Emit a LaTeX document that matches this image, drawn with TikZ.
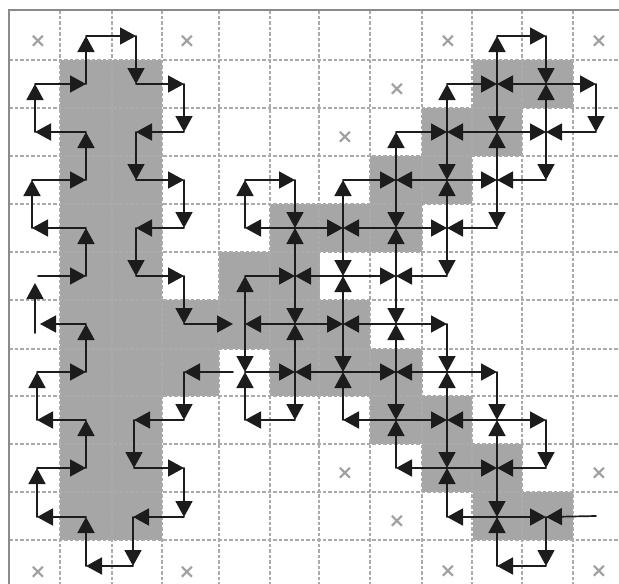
\documentclass[tikz,border=0pt]{standalone}
\usepackage{fontspec}
\newfontfamily\markfont{DejaVu Sans}
\usetikzlibrary{arrows.meta}
\tikzset{
  x=1pt,y=-1pt,
  cellfill/.style={fill=shade,draw=none},
  gridline/.style={draw=gridc,line width=1.1pt,dash pattern=on 3.5pt off 2pt},
  frameline/.style={draw=framec,line width=2.6pt},
  seg/.style={draw=inkc,line width=1.7pt,line cap=round,line join=round,-{Triangle[length=16pt,width=17pt]}},
  xmark/.style={text=markc,font=\markfont\bfseries\fontsize{20}{20}\selectfont,inner sep=0pt}
}
\definecolor{shade}{HTML}{A6A6A6}
\definecolor{gridc}{HTML}{ABABAB}
\definecolor{framec}{HTML}{8A8A8A}
\definecolor{inkc}{HTML}{1C1C1C}
\definecolor{markc}{HTML}{A0A0A0}
\begin{document}
\begin{tikzpicture}
\useasboundingbox (0,0) rectangle (619,584);
\fill[white] (0,0) rectangle (619,584);
% shaded cells
\foreach \xa/\ya/\xb/\yb in {60/60/162/540,162/300/219/396,219/252/320/349,270/204/422/252,219/300/370/349,
  270/349/422/396,370/156/472/204,422/108/522/156,473/60/573/108,370/396/472/444,422/444/522/492,473/492/573/540}
  \fill[cellfill] (\xa,\ya) rectangle (\xb,\yb);
% grid
\foreach \gx in {60,112,162,219,270,319,370,422,472,522,573}
  \draw[gridline] (\gx,10) -- (\gx,584);
\foreach \gy in {60,108,156,204,252,300,349,396,444,492,540}
  \draw[gridline] (9,\gy) -- (619,\gy);
\draw[frameline] (9,584) -- (9,10) -- (619,10);
% crosses
\foreach \i/\mx/\my in {a/38/41,b/187/41,c/448/41,d/599/41,e/397/89,f/345/137,g/38/572,h/187/572,i/345/473,j/397/521,k/448/571,l/599/571,m/599/473}
  \node[xmark] (x\i) at (\mx,\my) {×};
% junction points
\foreach \c/\cx in {0/35,1/86,2/136,3/184,4/245,5/295,6/343,7/396,8/447,9/497,10/546,11/596}
  \foreach \r/\ry in {0/36,1/84,2/132,3/180,4/228,5/276,6/324,7/372,8/420,9/468,10/517,11/566}
    \coordinate (n\c-\r) at (\cx,\ry);
\coordinate (n0-3) at (32,180);
\coordinate (n0-4) at (32,228);
\coordinate (n0-7) at (37,372);
\coordinate (n0-8) at (37,420);
\coordinate (n0-9) at (37,468);
\coordinate (n0-10) at (37,517);
\coordinate (n2-8) at (134,420);
\coordinate (n2-9) at (134,468);
\coordinate (n2-10) at (133,517);
\coordinate (n2-11) at (133,566);
\coordinate (freeA) at (233,324);
\coordinate (freeB) at (233,372);
\coordinate (freeC) at (38,276);
\coordinate (freeD) at (35,333);
\coordinate (freeE) at (35,283);
\coordinate (freeF) at (40,324);
\coordinate (freeG) at (596,516);
% connectors, left body
\foreach \a/\b in {
  n1-1/n1-0,n1-0/n2-0,n2-0/n2-1,n2-1/n3-1,n3-1/n3-2,n3-2/n2-2,n2-2/n2-3,n2-3/n3-3,n3-3/n3-4,n3-4/n2-4,n2-4/n2-5,n2-5/n3-5,n3-5/n3-6,n3-6/freeA,
  n0-1/n1-1,n0-2/n0-1,n1-2/n0-2,n1-3/n1-2,n0-3/n1-3,n0-4/n0-3,n1-4/n0-4,n1-5/n1-4,freeC/n1-5,freeD/freeE,n1-6/freeF,n1-7/n1-6,
  n0-7/n1-7,n0-8/n0-7,n1-8/n0-8,n1-9/n1-8,n0-9/n1-9,n0-10/n0-9,n1-10/n0-10,n1-11/n1-10,n2-11/n1-11,n2-10/n2-11,n3-10/n2-10,n3-9/n3-10,
  n2-9/n3-9,n2-8/n2-9,n3-8/n2-8,n3-7/n3-8,freeB/n3-7}
  \draw[seg] (\a) -- (\b);
% connectors, right body
\foreach \a/\b in {
  n4-5/n5-5,n4-6/n4-5,n4-6/n4-7,n5-6/n4-6,n5-5/n5-6,n5-7/n5-6,n5-7/n5-8,n5-8/n4-8,n4-8/n4-7,n4-7/n5-7,n6-7/n5-7,n5-6/n6-6,n7-6/n6-6,
  n6-6/n6-5,n6-6/n6-7,n6-8/n6-7,n7-8/n6-8,n7-7/n7-8,n7-9/n7-8,n8-9/n7-9,n7-8/n8-8,n9-8/n8-8,n8-8/n8-7,n8-8/n8-9,n8-10/n8-9,n9-10/n8-10,
  n8-9/n9-9,n10-9/n9-9,n9-9/n9-8,n9-9/n9-10,n9-11/n9-10,n10-11/n9-11,n10-10/n10-11,freeG/n10-10,n9-10/n10-10,n9-8/n10-8,n10-8/n10-9,
  n8-7/n9-7,n9-7/n9-8,n8-7/n7-7,n6-7/n7-7,n7-7/n7-6,n7-6/n8-6,n8-6/n8-7,n7-5/n7-6,n6-5/n7-5,n8-5/n7-5,n7-5/n7-4,n8-4/n8-5,n7-4/n8-4,
  n9-4/n8-4,n8-4/n8-3,n5-5/n5-4,n6-5/n5-5,n6-4/n6-5,n5-4/n6-4,n7-4/n6-4,n6-4/n6-3,n6-3/n7-3,n8-3/n7-3,n7-3/n7-2,n7-3/n7-4,n7-2/n8-2,
  n9-2/n8-2,n8-2/n8-1,n8-2/n8-3,n8-1/n9-1,n10-1/n9-1,n9-1/n9-0,n9-1/n9-2,n9-0/n10-0,n10-0/n10-1,n10-2/n10-1,n10-1/n11-1,n11-1/n11-2,
  n11-2/n10-2,n9-2/n10-2,n10-2/n10-3,n10-3/n9-3,n8-3/n9-3,n9-3/n9-2,n9-3/n9-4,n5-4/n4-4,n4-4/n4-3,n4-3/n5-3,n5-3/n5-4}
  \draw[seg] (\a) -- (\b);
\end{tikzpicture}
\end{document}
